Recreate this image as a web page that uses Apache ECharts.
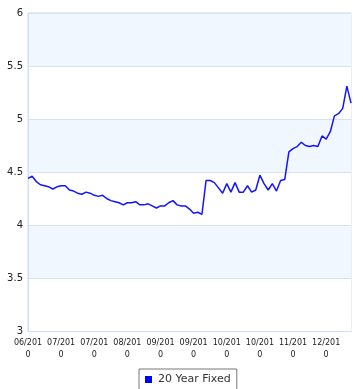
<!DOCTYPE html>
<html>
<head>
<meta charset="utf-8">
<script src="https://cdn.jsdelivr.net/npm/echarts@6/dist/echarts.min.js"></script>
<style>html,body{margin:0;padding:0;background:#fff;}#c{width:363px;height:389px;}</style>
</head>
<body>
<div id="c"></div>
<script>
const seriesName = '20 Year Fixed';
const tickLabels = ['06/2010','07/2010','07/2010','08/2010','09/2010','09/2010','10/2010','10/2010','11/2010','12/2010'];
const pointsPerTick = 8;
const rates = [
  4.44,4.46,4.41,4.38,4.37,4.36,4.34,4.36,4.37,4.37,
  4.33,4.32,4.30,4.29,4.31,4.30,4.28,4.27,4.28,4.25,
  4.23,4.22,4.21,4.19,4.21,4.21,4.22,4.19,4.19,4.20,
  4.18,4.16,4.18,4.18,4.21,4.23,4.19,4.18,4.18,4.15,
  4.11,4.12,4.10,4.42,4.42,4.40,4.35,4.30,4.39,4.31,
  4.40,4.31,4.31,4.37,4.31,4.33,4.47,4.39,4.33,4.39,
  4.32,4.42,4.43,4.69,4.72,4.74,4.78,4.75,4.74,4.75,
  4.74,4.84,4.81,4.88,5.03,5.05,5.10,5.31,5.15
];
const categories = rates.map((_, i) => (i % pointsPerTick === 0 && tickLabels[i / pointsPerTick]) ? tickLabels[i / pointsPerTick] : String(i));

const chart = echarts.init(document.getElementById('c'), null, {renderer: 'canvas'});
chart.setOption({
  animation: false,
  grid: {left: 28, right: 12, top: 13, bottom: 58, show: true, borderColor: '#cddff5', borderWidth: 1, backgroundColor: 'transparent'},
  xAxis: {
    type: 'category',
    data: categories,
    boundaryGap: false,
    axisLine: {show: true, lineStyle: {color: '#cddff5'}},
    axisTick: {show: false},
    splitLine: {show: false},
    axisLabel: {
      interval: pointsPerTick - 1,
      margin: 6,
      fontFamily: 'DejaVu Sans',
      fontSize: 8,
      lineHeight: 12,
      color: '#222',
      formatter: function (v) { return v.length > 6 ? v.slice(0, 6) + '\n' + v.slice(6) : v; }
    }
  },
  yAxis: {
    type: 'value',
    min: 3, max: 6, interval: 0.5,
    axisLine: {show: true, lineStyle: {color: '#cddff5'}},
    axisTick: {show: false},
    splitLine: {show: true, lineStyle: {color: '#d3e3f7', width: 1}},
    splitArea: {show: true, areaStyle: {color: ['#ffffff', '#f0f7fe']}},
    axisLabel: {fontFamily: 'DejaVu Sans', fontSize: 10, color: '#222', margin: 5}
  },
  legend: {
    data: [seriesName],
    left: 139, top: 369,
    padding: [5, 6, 10, 6],
    itemWidth: 7, itemHeight: 7, itemGap: 5,
    icon: 'rect',
    borderColor: '#777', borderWidth: 1,
    backgroundColor: '#fff',
    textStyle: {fontFamily: 'DejaVu Sans', fontSize: 11, color: '#333', padding: [0, 0, 0, 1]}
  },
  series: [{
    name: seriesName,
    type: 'line',
    data: rates,
    showSymbol: false,
    symbol: 'none',
    itemStyle: {color: '#0000ff'},
    lineStyle: {color: '#1414ff', width: 1.5}
  }]
});
</script>
</body>
</html>
